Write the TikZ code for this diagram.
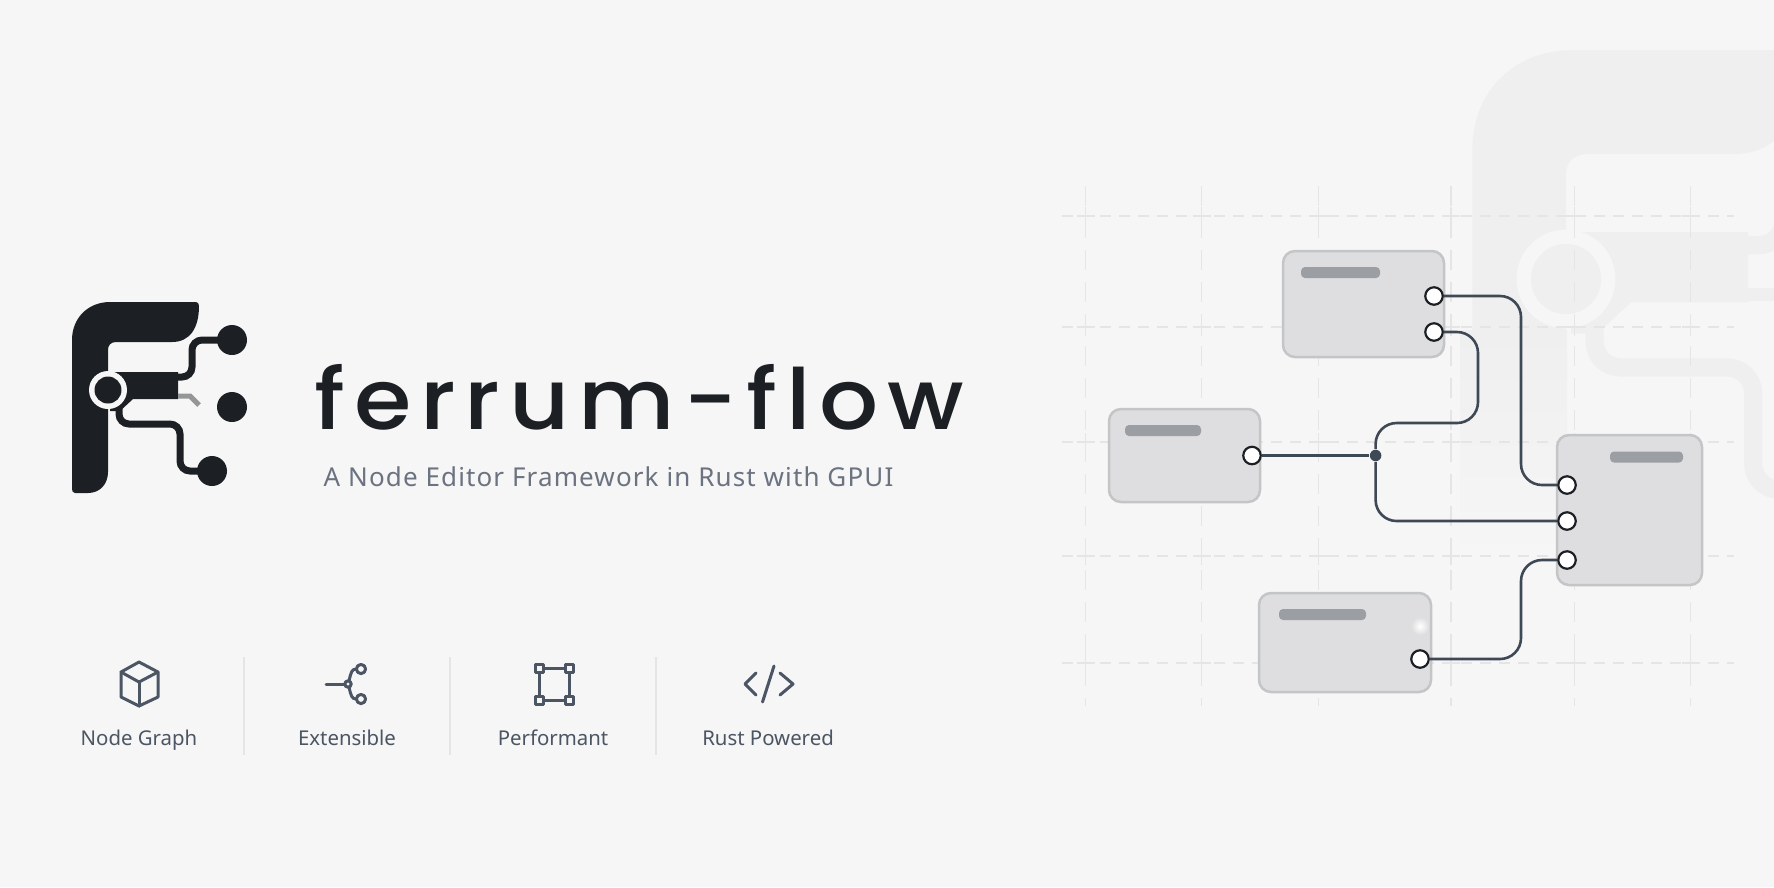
\documentclass[tikz,border=0pt]{standalone}
\usepackage{fontspec}
\setmainfont{Noto Sans}
\newfontfamily\titlefont[LetterSpace=10.5,FakeStretch=1.1]{Poppins Medium}
\newfontfamily\subfont[LetterSpace=4.3]{Noto Sans}
\usetikzlibrary{calc}

\definecolor{bgpaper}{HTML}{F6F6F6}
\definecolor{inkdark}{HTML}{1C2025}
\definecolor{wmgray}{HTML}{EFEFEF}
\definecolor{gridgray}{HTML}{E5E5E5}
\definecolor{boxgray}{HTML}{DEDEE0}
\definecolor{boxedge}{HTML}{C4C5C7}
\definecolor{bargray}{HTML}{9B9EA3}
\definecolor{wiregray}{HTML}{3F4955}
\definecolor{subgray}{HTML}{6B7280}
\definecolor{icongray}{HTML}{4B5563}

\tikzset{
    boxnode/.style={draw=boxedge, fill=boxgray, line width=0.25mm, rounded corners=1.2mm, inner sep=0},
    barnode/.style={fill=bargray, rounded corners=0.4mm, inner sep=0, minimum height=1.1mm},
    portnode/.style={circle, draw=inkdark, fill=white, line width=0.22mm, inner sep=0, minimum size=1.75mm},
    wire/.style={draw=wiregray, line width=0.26mm, rounded corners=2.1mm},
    gridline/.style={draw=gridgray, line width=0.11mm},
    iconline/.style={draw=icongray, line width=0.3mm, line cap=round, line join=round},
    featurelabel/.style={anchor=base, text=icongray, inner sep=0, font=\fontsize{5.8}{7}\selectfont}
}

% F mark: colour, size factor, colour of the short stub
\newcommand{\logoF}[3]{
    \fill[#1] (72,340) .. controls (72,318) and (88,302) .. (110,302) -- (196,302)
        .. controls (198,302) and (199,304) .. (199,306)
        .. controls (199,328) and (190,342) .. (172,342) -- (116,342)
        .. controls (111,342) and (108,345) .. (108,350) -- (108,472)
        .. controls (108,484) and (100,493) .. (88,493) -- (75,493)
        .. controls (73,493) and (72,491) .. (72,489) -- cycle;
    \fill[#1] (110,372) -- (178,372) -- (178,399) -- (133,399) -- (120,411) -- (110,411) -- cycle;
    \draw[#3, line width=#2*0.5mm] (178,396) -- (190,396) -- (199,405);
    \draw[#1, line width=#2*0.7mm, rounded corners=#2*1mm] (176,377) -- (192,377) -- (192,340) -- (225,340);
    \draw[#1, line width=#2*0.7mm, rounded corners=#2*1mm] (119,405) -- (119,424) -- (180,424) -- (180,471) -- (205,471);
    \fill[bgpaper] (108,390) circle[radius=19];
    \fill[#1] (108,390) circle[radius=13.5];
    \fill[#1] (232,340) circle[radius=15];
    \fill[#1] (232,407) circle[radius=15];
    \fill[#1] (212,471) circle[radius=15];
}

\begin{document}
\begin{tikzpicture}[x=0.1mm,y=-0.1mm]

    \useasboundingbox (0,0) rectangle (1774,887);
    \fill[bgpaper] (0,0) rectangle (1774,887);

    % big faint mark
    \begin{scope}
        \clip (0,0) rectangle (1774,887);
        \begin{scope}[shift={(1566,279)},scale=2.6,shift={(-108,-390)}]
            \logoF{wmgray}{2.6}{wmgray}
        \end{scope}
        \shade[top color=wmgray, bottom color=bgpaper] (1460,330) rectangle (1567,560);
    \end{scope}

    % grid
    \foreach \gy in {216,327,442,556,663} {
        \draw[gridline, dash pattern=on 1.1mm off 0.8mm] (1062,\gy) -- (1734,\gy);
    }
    \foreach \gx in {1085.5,1201.6,1318.6,1451,1574.6,1690.7} {
        \draw[gridline, dash pattern=on 2mm off 1.2mm] (\gx,186) -- (\gx,706);
        \foreach \gy in {216,327,442,556,663} {
            \draw[gridline] (\gx-9,\gy) -- (\gx+9,\gy);
            \draw[gridline] (\gx,\gy-9) -- (\gx,\gy+9);
        }
    }

    % logo
    \logoF{inkdark}{1}{inkdark!45!bgpaper}

    % title
    \node[anchor=base west, inner sep=0, text=inkdark, font=\titlefont\fontsize{24}{28}\selectfont] (title) at (314,429) {ferrum-flow};
    \node[anchor=base west, inner sep=0, text=subgray, font=\subfont\fontsize{7.4}{9}\selectfont] (subtitle) at (323,486) {A Node Editor Framework in Rust with GPUI};

    % features
    \node[featurelabel] (labgraph) at (139,745) {Node Graph};
    \node[featurelabel] (labext) at (347,745) {Extensible};
    \node[featurelabel] (labperf) at (553,745) {Performant};
    \node[featurelabel] (labrust) at (768,745) {Rust Powered};

    \draw[gridline] (244,657) -- (244,755);
    \draw[gridline] (450,657) -- (450,755);
    \draw[gridline] (656,657) -- (656,755);

    % cube
    \draw[iconline] (139,662) -- (158,672) -- (158,697) -- (139,706) -- (121,697) -- (121,672) -- cycle;
    \draw[iconline] (121,672) -- (139,682) -- (158,672);
    \draw[iconline] (139,682) -- (139,706);

    % branch
    \draw[iconline] (326,684) -- (345,684);
    \draw[iconline] (348,684) circle[radius=3.2];
    \draw[iconline] (361,669) circle[radius=4.6];
    \draw[iconline] (361,699) circle[radius=4.6];
    \draw[iconline] (349,681) .. controls (351,672) and (352,669) .. (356,669);
    \draw[iconline] (349,687) .. controls (351,696) and (352,699) .. (356,699);

    % frame
    \draw[iconline] (539,668) rectangle (569,700);
    \foreach \fx in {539,569} {
        \foreach \fy in {668,700} {
            \draw[iconline, fill=bgpaper] (\fx-4,\fy-4) rectangle (\fx+4,\fy+4);
        }
    }

    % code
    \draw[iconline] (756,673) -- (745,684) -- (756,695);
    \draw[iconline] (780,673) -- (793,684) -- (780,695);
    \draw[iconline] (774,666) -- (762.5,702);

    % boxes
    \node[boxnode, minimum width=16.1mm, minimum height=10.6mm] (boxa) at (1363.5,304) {};
    \node[boxnode, minimum width=15.1mm, minimum height=9.3mm] (boxb) at (1184.5,455.5) {};
    \node[boxnode, minimum width=14.5mm, minimum height=15mm] (boxc) at (1629.5,510) {};
    \node[boxnode, minimum width=17.2mm, minimum height=9.9mm] (boxd) at (1345,642.5) {};

    \node[barnode, minimum width=7.9mm] (bara) at (1340.5,272.5) {};
    \node[barnode, minimum width=7.6mm] (barb) at (1163,430.5) {};
    \node[barnode, minimum width=7.3mm] (barc) at (1646.5,457) {};
    \node[barnode, minimum width=8.7mm] (bard) at (1322.5,614.5) {};

    \shade[inner color=white, outer color=boxgray] (1420,626) circle[radius=9];

    % ports
    \node[portnode] (porta) at (1434,296) {};
    \node[portnode] (portb) at (1434,332) {};
    \node[portnode] (portin) at (1252,455.5) {};
    \node[portnode] (portc) at (1567,485) {};
    \node[portnode] (portd) at (1567,521) {};
    \node[portnode] (porte) at (1567,560) {};
    \node[portnode] (portout) at (1420,659) {};
    \node[circle, fill=wiregray, inner sep=0, minimum size=1.15mm] (split) at (1375.6,455.5) {};

    \coordinate (turna) at (1521,390);
    \coordinate (turnb) at (1478,423);
    \coordinate (turnc) at (1521,610);

    % wires
    \draw[wire] (porta) -| (turna) |- (portc);
    \draw[wire] (portb) -| (turnb) -| (split);
    \draw[wire] (portin) -- (split);
    \draw[wire] (split) |- (portd);
    \draw[wire] (portout) -| (turnc) |- (porte);

\end{tikzpicture}
\end{document}
